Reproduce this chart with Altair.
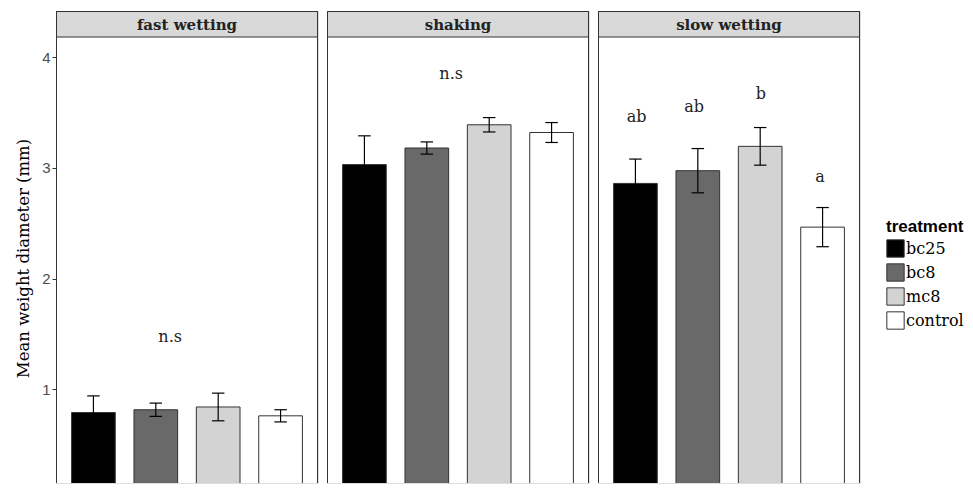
import altair as alt
import pandas as pd

conditions = ["fast wetting", "shaking", "slow wetting"]
treatments = ["bc25", "bc8", "mc8", "control"]
fills = ["#000000", "#696969", "#d3d3d3", "#ffffff"]

mean_fast = [0.79, 0.815, 0.84, 0.76]
se_fast = [0.15, 0.06, 0.125, 0.055]
mean_shaking = [3.03, 3.18, 3.39, 3.32]
se_shaking = [0.26, 0.055, 0.065, 0.09]
mean_slow = [2.86, 2.975, 3.195, 2.465]
se_slow = [0.22, 0.20, 0.17, 0.177]

label_cond = ["fast wetting", "shaking", "slow wetting", "slow wetting", "slow wetting", "slow wetting"]
label_text = ["n.s", "n.s", "ab", "ab", "b", "a"]
label_x = [2.23, 2.39, 1.02, 1.94, 3.01, 3.96]
label_y = [1.475, 3.85, 3.46, 3.55, 3.67, 2.92]

means = {"fast wetting": mean_fast, "shaking": mean_shaking, "slow wetting": mean_slow}
ses = {"fast wetting": se_fast, "shaking": se_shaking, "slow wetting": se_slow}

rows = []
for c in conditions:
    for i, t in enumerate(treatments):
        rows.append({"condition": c, "treatment": t, "pos": i + 1,
                     "mean": means[c][i], "se": ses[c][i]})
df = pd.DataFrame(rows)
labels = pd.DataFrame({"condition": label_cond, "text": label_text, "x": label_x, "y": label_y})

W, H = 262, 472
SERIF = "DejaVu Serif"
SANS = "Liberation Sans"

xs = alt.Scale(domain=[0.4, 4.6], nice=False, zero=False)
ys = alt.Scale(domain=[0.153, 4.418], nice=False, zero=False)
cs = alt.Scale(domain=treatments, range=fills)


def panel(cond, first):
    if first:
        yaxis = alt.Axis(values=[1, 2, 3, 4], format="d", domain=False, grid=False, tickColor="#333333",
                         tickSize=4, labelColor="#4d4d4d", labelFont=SANS, labelFontSize=15,
                         labelPadding=2, title="Mean weight diameter (mm)", titleFont=SERIF,
                         titleFontSize=16.5, titleFontWeight="normal", titleColor="#000000",
                         titleAngle=270, titleAlign="center", titleBaseline="middle",
                         titleX=-33, titleY=247)
    else:
        yaxis = None
    base = alt.Chart(df).transform_filter(alt.datum.condition == cond).transform_calculate(
        bx0="datum.pos - 0.35", bx1="datum.pos + 0.35", y0="0",
        lo="datum.mean - datum.se", hi="datum.mean + datum.se",
        cx0="datum.pos - 0.1", cx1="datum.pos + 0.1")
    bars = base.mark_bar(stroke="#333333", strokeWidth=1, clip=True).encode(
        x=alt.X("bx0:Q", scale=xs, axis=None), x2="bx1:Q",
        y=alt.Y("y0:Q", scale=ys, axis=yaxis), y2="mean:Q",
        color=alt.Color("treatment:N", scale=cs, sort=treatments,
                        legend=alt.Legend(title="treatment", orient="none", legendX=830, legendY=208,
                                          titleFont=SANS, titleFontSize=17, titleFontWeight="bold",
                                          titleColor="#000000", labelFont=SERIF, labelFontSize=16,
                                          labelColor="#000000", symbolType="square", symbolSize=300,
                                          symbolStrokeColor="#333333", symbolStrokeWidth=1,
                                          rowPadding=1, labelOffset=1, titlePadding=3)))
    vline = base.mark_rule(color="#000000", strokeWidth=1.2).encode(
        x=alt.X("pos:Q", scale=xs, axis=None), y=alt.Y("lo:Q", scale=ys, axis=yaxis), y2="hi:Q")
    capt = base.mark_rule(color="#000000", strokeWidth=1.2).encode(
        x=alt.X("cx0:Q", scale=xs, axis=None), x2="cx1:Q", y=alt.Y("hi:Q", scale=ys, axis=yaxis))
    capb = base.mark_rule(color="#000000", strokeWidth=1.2).encode(
        x=alt.X("cx0:Q", scale=xs, axis=None), x2="cx1:Q", y=alt.Y("lo:Q", scale=ys, axis=yaxis))
    txt = alt.Chart(labels).transform_filter(alt.datum.condition == cond).mark_text(
        font=SERIF, fontSize=16, color="#222222", baseline="middle", align="center").encode(
        x=alt.X("x:Q", scale=xs, axis=None), y=alt.Y("y:Q", scale=ys, axis=yaxis), text="text:N")
    one = pd.DataFrame({"condition": [cond]})
    strip = alt.Chart(one).mark_rect(fill="#d9d9d9", stroke="#333333", strokeWidth=1).encode(
        x=alt.value(0.5), x2=alt.value(W - 0.5), y=alt.value(0.5), y2=alt.value(26))
    strip_text = alt.Chart(one).mark_text(font=SERIF, fontSize=15, fontWeight="bold",
                                          color="#222222", baseline="middle").encode(
        x=alt.value(W / 2), y=alt.value(14), text="condition:N")
    border = alt.Chart(one).mark_rect(fillOpacity=0, stroke="#333333", strokeWidth=1, clip=True).encode(
        x=alt.value(0.5), x2=alt.value(W - 0.5), y=alt.value(0.5), y2=alt.value(H + 5))
    return alt.layer(bars, vline, capt, capb, txt, strip, strip_text, border).properties(width=W, height=H)


chart = alt.hconcat(*[panel(c, i == 0) for i, c in enumerate(conditions)], spacing=7).properties(
    padding={"left": 6, "top": 2, "right": 0, "bottom": 0}
).configure_view(strokeWidth=0).configure(background="#ffffff")

chart.save("out.html", embed_options={"renderer": "svg", "actions": False})
